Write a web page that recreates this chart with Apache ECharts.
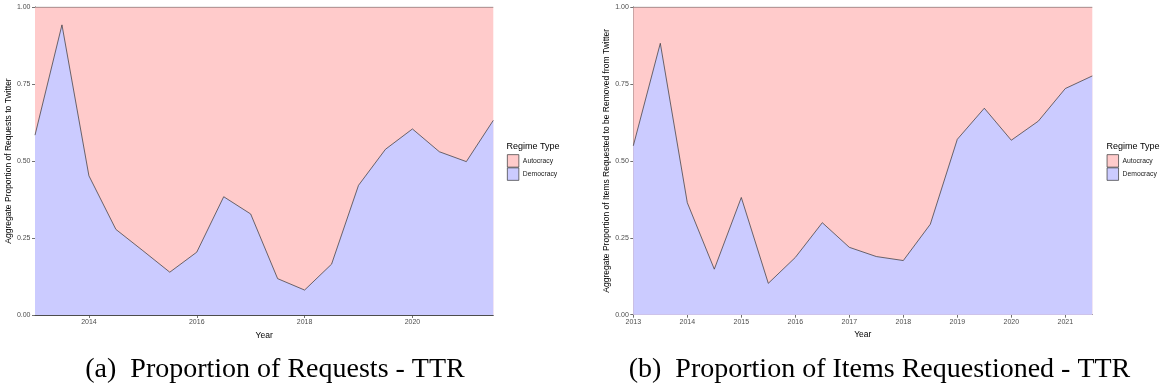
<!DOCTYPE html>
<html>
<head>
<meta charset="utf-8">
<script src="https://cdn.jsdelivr.net/npm/echarts@6/dist/echarts.min.js"></script>
<style>
html,body{margin:0;padding:0;background:#fff;}
#c{width:1161px;height:390px;}
</style>
</head>
<body>
<div id="c"></div>
<script>
// Years (half-year steps)
var years = [2013, 2013.5, 2014, 2014.5, 2015, 2015.5, 2016, 2016.5, 2017, 2017.5,
             2018, 2018.5, 2019, 2019.5, 2020, 2020.5, 2021, 2021.5];
// Panel (a): share of requests from democracies
var democracyRequests = [0.584, 0.942, 0.452, 0.278, 0.209, 0.139, 0.204, 0.384, 0.328, 0.118,
                         0.081, 0.165, 0.421, 0.538, 0.604, 0.530, 0.498, 0.632];
// Panel (b): share of items requested from democracies
var democracyItems = [0.549, 0.882, 0.364, 0.148, 0.381, 0.102, 0.186, 0.299, 0.219, 0.189,
                      0.176, 0.294, 0.570, 0.671, 0.567, 0.629, 0.735, 0.776];
// Autocracy fills up to the top of the stack (1.00)
var stackTopYears = [2013, 2021.5];
var stackTopValues = [1, 1];
// Tick labels
var xTicksA = [2014, 2016, 2018, 2020];
var xTicksB = [2013, 2014, 2015, 2016, 2017, 2018, 2019, 2020, 2021];
var legendNames = ['Autocracy', 'Democracy'];
var yTitles = ['Aggregate Proportion of Requests to Twitter',
               'Aggregate Proportion of Items Requested to be Removed from Twitter'];
var captions = ['(a)  Proportion of Requests - TTR', '(b)  Proportion of Items Requestioned - TTR'];

function pairs(xs, ys) { return xs.map(function (x, i) { return [x, ys[i]]; }); }

var SANS = 'Liberation Sans, Arial, sans-serif';
var PINK = '#FFCBCB', BLUE = '#CBCBFF', EDGE = '#333333', AXIS = '#4d4d4d';

function xAxis(idx, ticks) {
  return {
    type: 'value', gridIndex: idx, min: 2013, max: 2021.5,
    name: 'Year', nameLocation: 'middle', nameGap: 12.5,
    nameTextStyle: { fontSize: 8.5, color: '#000', fontFamily: SANS },
    axisLine: { show: true, lineStyle: { color: AXIS, width: 1 } },
    axisTick: { show: true, length: 3, customValues: ticks, lineStyle: { color: AXIS, width: 0.8 } },
    axisLabel: { customValues: ticks, margin: 4, fontSize: 7, color: AXIS, fontFamily: SANS,
                 formatter: function (v) { return String(v); } },
    splitLine: { show: false }
  };
}
function yAxis(idx, gap) {
  return {
    type: 'value', gridIndex: idx, min: 0, max: 1, interval: 0.25,
    name: yTitles[idx], nameLocation: 'middle', nameGap: gap, nameRotate: 90,
    nameTextStyle: { fontSize: 8.5, color: '#000', fontFamily: SANS },
    axisLine: { show: true, lineStyle: { color: AXIS, width: 1 } },
    axisTick: { show: true, length: 3, lineStyle: { color: AXIS, width: 0.8 } },
    axisLabel: { margin: 4.5, fontSize: 7, color: AXIS, fontFamily: SANS,
                 formatter: function (v) { return v.toFixed(2); } },
    splitLine: { show: false }
  };
}
function seriesFor(idx, dem) {
  return [
    { name: legendNames[0], type: 'line', xAxisIndex: idx, yAxisIndex: idx,
      data: pairs(stackTopYears, stackTopValues), symbol: 'none', z: 1,
      itemStyle: { color: PINK },
      lineStyle: { color: EDGE, width: 0.7 },
      areaStyle: { color: PINK, opacity: 1 }, silent: true, animation: false },
    { name: legendNames[1], type: 'line', xAxisIndex: idx, yAxisIndex: idx,
      data: pairs(years, dem), symbol: 'none', z: 2,
      itemStyle: { color: BLUE },
      lineStyle: { color: EDGE, width: 0.7 },
      areaStyle: { color: BLUE, opacity: 1 }, silent: true, animation: false }
  ];
}
function legendAt(left) {
  return {
    data: legendNames, orient: 'vertical', left: left, top: 154.3, padding: 0,
    itemGap: 0, itemWidth: 11.5, itemHeight: 12.5, icon: 'rect',
    itemStyle: { borderColor: EDGE, borderWidth: 0.7 },
    textStyle: { fontSize: 6.8, color: '#1a1a1a', fontFamily: SANS, padding: [0, 0, 0, -1] },
    selectedMode: false
  };
}

var chart = echarts.init(document.getElementById('c'), null, { renderer: 'canvas' });
chart.setOption({
  animation: false,
  backgroundColor: '#ffffff',
  title: [
    { text: 'Regime Type', left: 506.5, top: 142.5, padding: 0,
      textStyle: { fontSize: 9, fontWeight: 'normal', color: '#000', fontFamily: SANS } },
    { text: 'Regime Type', left: 1106.5, top: 142.5, padding: 0,
      textStyle: { fontSize: 9, fontWeight: 'normal', color: '#000', fontFamily: SANS } }
  ],
  legend: [legendAt(507), legendAt(1106.7)],
  grid: [
    { left: 35, top: 7, width: 458.3, height: 308 },
    { left: 633.3, top: 7, width: 459, height: 307.7 }
  ],
  xAxis: [xAxis(0, xTicksA), xAxis(1, xTicksB)],
  yAxis: [yAxis(0, 19), yAxis(1, 17.5)],
  series: seriesFor(0, democracyRequests).concat(seriesFor(1, democracyItems)),
  graphic: [
    { type: 'text', x: 275, y: 370, style: { text: captions[0], fill: '#000',
      font: '28px "Liberation Serif", "Times New Roman", serif', textAlign: 'center', textVerticalAlign: 'middle' } },
    { type: 'text', x: 879.5, y: 370, style: { text: captions[1], fill: '#000',
      font: '28px "Liberation Serif", "Times New Roman", serif', textAlign: 'center', textVerticalAlign: 'middle' } }
  ]
});
</script>
</body>
</html>
